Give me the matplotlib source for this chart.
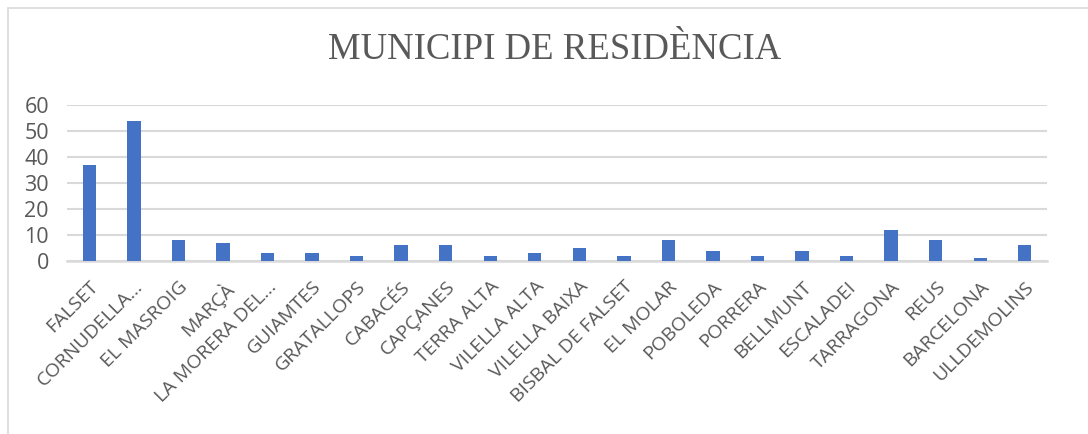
import matplotlib.pyplot as plt
import numpy as np
from matplotlib.patches import Rectangle

municipis = ['FALSET', 'CORNUDELLA...', 'EL MASROIG', 'MARÇÀ', 'LA MORERA DEL...',
             'GUIAMTES', 'GRATALLOPS', 'CABACÉS', 'CAPÇANES', 'TERRA ALTA',
             'VILELLA ALTA', 'VILELLA BAIXA', 'BISBAL DE FALSET', 'EL MOLAR',
             'POBOLEDA', 'PORRERA', 'BELLMUNT', 'ESCALADEI', 'TARRAGONA', 'REUS',
             'BARCELONA', 'ULLDEMOLINS']
valors = [37, 54, 8, 7, 3, 3, 2, 6, 6, 2, 3, 5, 2, 8, 4, 2, 4, 2, 12, 8, 1, 6]
yticks = [0, 10, 20, 30, 40, 50, 60]

fig = plt.figure(figsize=(10.88, 4.34), dpi=100)
ax = fig.add_axes([67/1088, 1-261/434, (1047-67)/1088, (261-105)/434])

x = np.arange(len(municipis))
ax.bar(x, valors, width=0.3, color='#4472C4', zorder=3)

ax.set_xlim(-0.5, len(municipis)-0.5)
ax.set_ylim(0, 60)
ax.set_yticks(yticks)
ax.set_yticklabels([str(v) for v in yticks], family='Open Sans', fontsize=15.5, color='#595959')
ax.set_xticks(x)
ax.set_xticklabels(municipis, rotation=45, ha='right', rotation_mode='anchor',
                   family='Open Sans', fontsize=14, color='#595959')
ax.tick_params(length=0, axis='both')
ax.tick_params(axis='y', pad=13)
ax.tick_params(axis='x', pad=12)
ax.grid(axis='y', color='#D9D9D9', linewidth=1.5, zorder=0)
for s in ['top', 'right', 'left']:
    ax.spines[s].set_visible(False)
ax.spines['bottom'].set_color('#D9D9D9')
ax.spines['bottom'].set_linewidth(1.8)

fig.text(555/1088, 1-50/434, 'MUNICIPI DE RESIDÈNCIA', ha='center', va='center',
         family='Liberation Serif', fontsize=26.5, color='#595959')

# chart border (right and bottom edges cropped in the original)
fig.patches.append(Rectangle((8/1088, -0.1), 1.1, 1-8/434+0.1, transform=fig.transFigure,
                             fill=False, edgecolor='#D9D9D9', linewidth=1.2))

plt.savefig('out.png', dpi=100)
